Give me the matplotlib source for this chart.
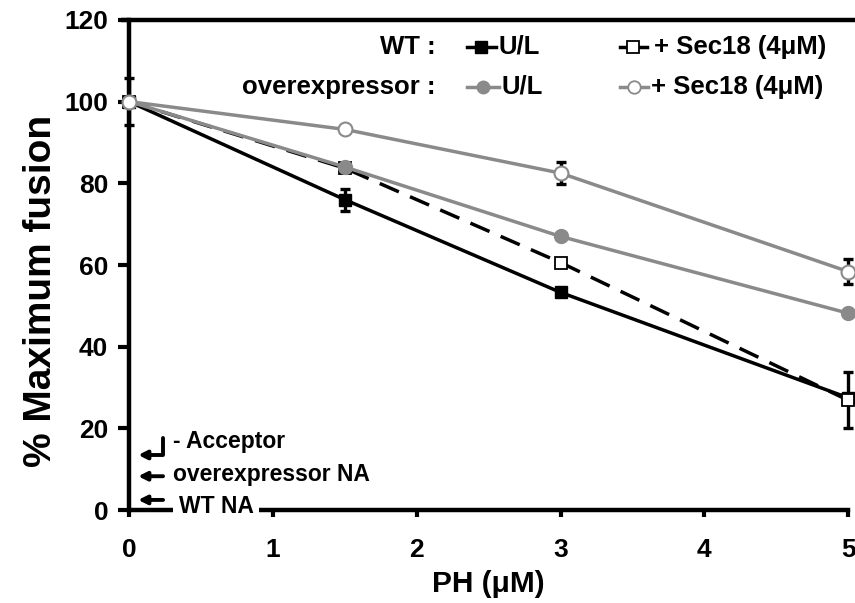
import matplotlib
matplotlib.use("Agg")
import matplotlib.pyplot as plt
from matplotlib.lines import Line2D

plt.rcParams['font.family'] = ['Liberation Sans', 'DejaVu Sans']
plt.rcParams['font.weight'] = 'bold'

x = [0, 1.5, 3, 5]
wt_ul = [100, 76, 53.3, 27.5]
wt_ul_err = [5.8, 2.7, 0, 0]
wt_sec = [100, 83.7, 60.6, 26.9]
wt_sec_err = [0, 0, 0, 6.9]
ov_ul = [100, 84, 67, 48.2]
ov_ul_err = [0, 0, 0, 0]
ov_sec = [100, 93.2, 82.5, 58.4]
ov_sec_err = [0, 0, 2.7, 3.0]

xticks = [0, 1, 2, 3, 4, 5]
yticks = [0, 20, 40, 60, 80, 100, 120]

GRAY = '#8a8a8a'

fig = plt.figure(figsize=(8.55, 6.03), dpi=100)
ax = fig.add_axes([0.151, 0.154, 0.841, 0.813])

lw = 2.5
# WT series (black)
ax.plot(x, wt_ul, color='black', lw=lw, marker='s', ms=9, mfc='black', mec='black', clip_on=False, zorder=3)
ax.plot(x, wt_sec, color='black', lw=lw, ls=(0, (6, 3.5)), marker='s', ms=9, mfc='white', mec='black', mew=1.3, clip_on=False, zorder=3.1)
# overexpressor series (gray)
ax.plot(x, ov_ul, color=GRAY, lw=lw, marker='o', ms=10, mfc=GRAY, mec=GRAY, clip_on=False, zorder=3.2)
ax.plot(x, ov_sec, color=GRAY, lw=lw, marker='o', ms=10, mfc='white', mec=GRAY, mew=1.5, clip_on=False, zorder=3.3)

for ys, es in [(wt_ul, wt_ul_err), (wt_sec, wt_sec_err), (ov_ul, ov_ul_err), (ov_sec, ov_sec_err)]:
    xs = [xi for xi, e in zip(x, es) if e > 0]
    yv = [yi for yi, e in zip(ys, es) if e > 0]
    ev = [e for e in es if e > 0]
    if xs:
        ax.errorbar(xs, yv, yerr=ev, fmt='none', ecolor='black', elinewidth=2.4, capsize=3.5, capthick=2.4, clip_on=False, zorder=2.8)

ax.set_xlim(0, 5)
ax.set_ylim(0, 120)
ax.set_xticks(xticks)
ax.set_yticks(yticks)
ax.set_xticklabels([str(t) for t in xticks], fontsize=19, fontweight='bold')
ax.set_yticklabels([str(t) for t in yticks], fontsize=19, fontweight='bold')
ax.tick_params(axis='y', direction='out', length=8, width=3, pad=7)
ax.tick_params(axis='x', direction='out', length=5, width=3, pad=15)
ax.spines['right'].set_visible(False)
ax.spines['top'].set_visible(False)
for s in ['left', 'bottom']:
    ax.spines[s].set_linewidth(3.2)
# top frame line running to the figure edge
y_top = 0.154 + 0.813
fig.add_artist(Line2D([0.142, 1.0], [y_top, y_top], color='black', lw=3.2, solid_capstyle='butt'))

ax.set_ylabel('% Maximum fusion', fontsize=28, fontweight='bold')
ax.yaxis.set_label_coords(-0.097, 0.447)
ax.set_xlabel('PH (μM)', fontsize=21.5, fontweight='bold', labelpad=6)

# legend (manual)
fs_leg = 18.5
r1, r2 = 113.4, 103.6
ax.text(2.13, r1, 'WT :', ha='right', va='center', fontsize=fs_leg, fontweight='bold')
ax.plot([2.35, 2.55], [r1, r1], color='black', lw=lw, clip_on=False)
ax.plot([2.45], [r1], color='black', marker='s', ms=8, clip_on=False)
ax.text(2.57, r1, 'U/L', ha='left', va='center', fontsize=fs_leg, fontweight='bold')
ax.plot([3.41, 3.60], [r1, r1], color='black', lw=lw, clip_on=False)
ax.plot([3.505], [r1], marker='s', ms=8, mfc='white', mec='black', mew=1.3, clip_on=False)
ax.text(3.65, r1, '+ Sec18 (4μM)', ha='left', va='center', fontsize=fs_leg, fontweight='bold')

ax.text(2.13, r2, 'overexpressor :', ha='right', va='center', fontsize=fs_leg, fontweight='bold')
ax.plot([2.35, 2.57], [r2, r2], color=GRAY, lw=lw, clip_on=False)
ax.plot([2.46], [r2], color=GRAY, marker='o', ms=9, clip_on=False)
ax.text(2.59, r2, 'U/L', ha='left', va='center', fontsize=fs_leg, fontweight='bold')
ax.plot([3.41, 3.61], [r2, r2], color=GRAY, lw=lw, clip_on=False)
ax.plot([3.51], [r2], marker='o', ms=9, mfc='white', mec=GRAY, mew=1.3, clip_on=False)
ax.text(3.63, r2, '+ Sec18 (4μM)', ha='left', va='center', fontsize=fs_leg, fontweight='bold')

# no-acceptor / NA annotations
fs_ann = 16.5
aprops = dict(arrowstyle='-|>,head_length=0.5,head_width=0.25', lw=2.8, color='black', shrinkA=0, shrinkB=0)
ax.text(0.306, 16.7, '- Acceptor', ha='left', va='center', fontsize=fs_ann, fontweight='bold')
ax.annotate('', xy=(0.063, 13.5), xytext=(0.236, 17.6),
            arrowprops=dict(aprops, connectionstyle='angle,angleA=90,angleB=0,rad=0'))
ax.text(0.306, 8.8, 'overexpressor NA', ha='left', va='center', fontsize=fs_ann, fontweight='bold')
ax.annotate('', xy=(0.063, 8.3), xytext=(0.236, 8.3), arrowprops=aprops)
ax.text(0.345, 1.0, 'WT NA', ha='left', va='center', fontsize=fs_ann, fontweight='bold', zorder=5,
        bbox=dict(facecolor='white', edgecolor='none', pad=4))
ax.annotate('', xy=(0.063, 2.5), xytext=(0.236, 2.5), arrowprops=aprops, zorder=6)

fig.savefig('out.png', dpi=100)
